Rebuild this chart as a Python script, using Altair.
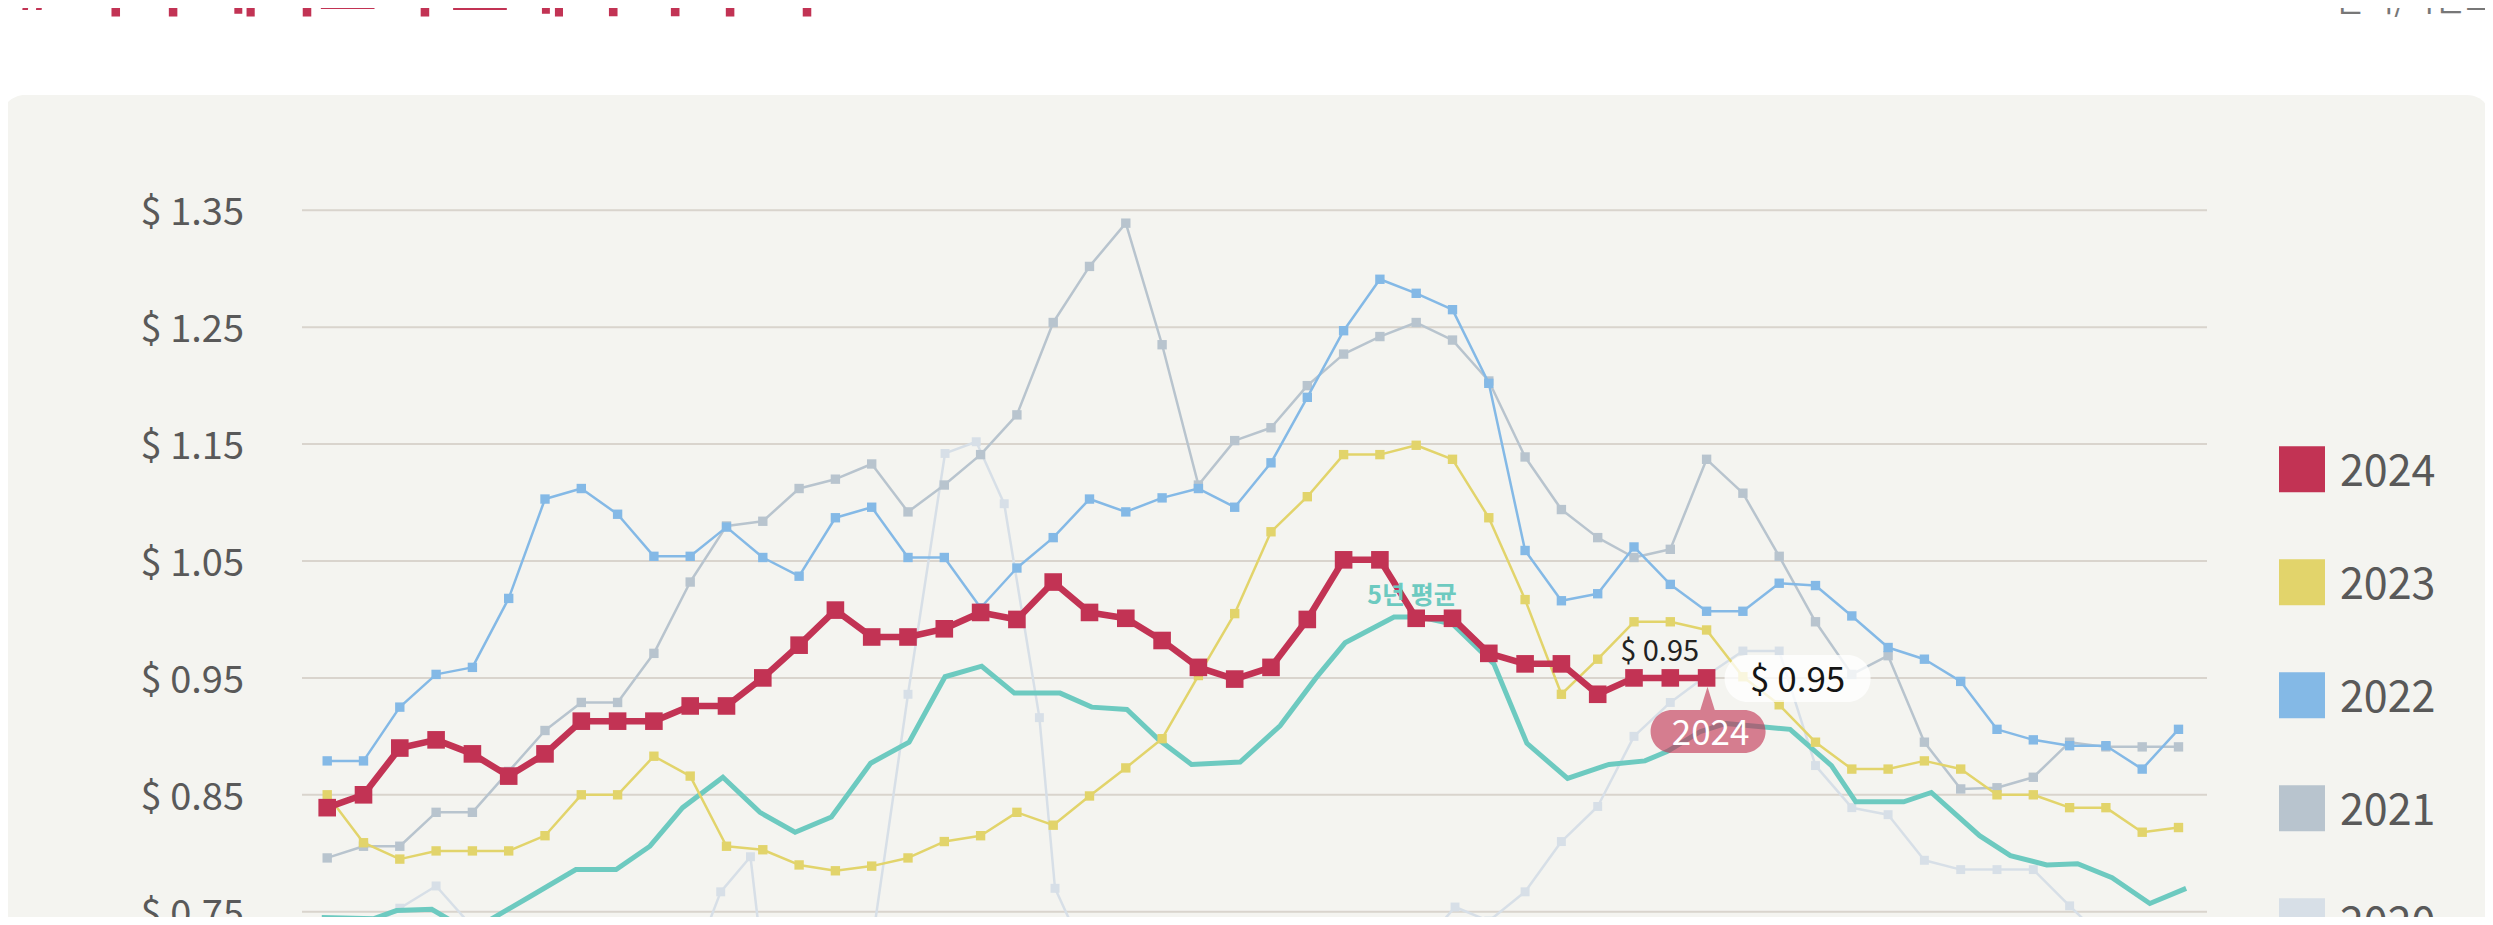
import altair as alt
import pandas as pd

# ---------------- data ----------------
weeks = list(range(52))

v2024 = [0.839, 0.850, 0.890, 0.897, 0.885, 0.866, 0.885, 0.913, 0.913, 0.913,
         0.926, 0.926, 0.950, 0.978, 1.008, 0.985, 0.985, 0.992, 1.006, 1.000,
         1.032, 1.006, 1.001, 0.982, 0.959, 0.949, 0.959, 1.000, 1.051, 1.051,
         1.001, 1.001, 0.971, 0.962, 0.962, 0.936, 0.950, 0.950, 0.950]

v2023 = [0.850, 0.809, 0.795, 0.802, 0.802, 0.802, 0.815, 0.850, 0.850, 0.883,
         0.866, 0.806, 0.803, 0.790, 0.785, 0.789, 0.796, 0.810, 0.815, 0.835,
         0.824, 0.849, 0.873, 0.898, 0.952, 1.005, 1.075, 1.105, 1.141, 1.141,
         1.149, 1.137, 1.087, 1.017, 0.936, 0.966, 0.998, 0.998, 0.991, 0.951,
         0.927, 0.895, 0.872, 0.872, 0.879, 0.872, 0.850, 0.850, 0.839, 0.839,
         0.818, 0.822]

v2022 = [0.879, 0.879, 0.925, 0.953, 0.959, 1.018, 1.103, 1.112, 1.090, 1.054,
         1.054, 1.079, 1.053, 1.037, 1.087, 1.096, 1.053, 1.053, 1.010, 1.044,
         1.070, 1.103, 1.092, 1.104, 1.112, 1.096, 1.134, 1.190, 1.247, 1.291,
         1.279, 1.265, 1.202, 1.059, 1.016, 1.022, 1.062, 1.030, 1.007, 1.007,
         1.031, 1.029, 1.003, 0.976, 0.966, 0.947, 0.906, 0.897, 0.892, 0.892,
         0.872, 0.906]

v2021 = [0.796, 0.806, 0.806, 0.835, 0.835, 0.870, 0.905, 0.929, 0.929, 0.971,
         1.032, 1.080, 1.084, 1.112, 1.120, 1.133, 1.092, 1.115, 1.141, 1.175,
         1.254, 1.302, 1.339, 1.235, 1.115, 1.153, 1.164, 1.200, 1.227, 1.242,
         1.254, 1.239, 1.204, 1.139, 1.094, 1.070, 1.053, 1.060, 1.137, 1.108,
         1.054, 0.998, 0.953, 0.969, 0.895, 0.855, 0.856, 0.865, 0.895, 0.891,
         0.891, 0.891]

x2020 = [0, 1, 2, 3, 4, 5, 6, 7, 8, 9, 10, 10.84, 11.66, 12.5, 13.3, 14.1, 15,
         16.0, 17.02, 17.88, 18.65, 19.62, 20.05, 21.04, 22, 23, 24, 25, 26, 27,
         28, 29, 30.04, 31.07, 32, 33, 34, 35, 36, 37, 38, 39, 40, 41, 42, 43,
         44, 45, 46, 47, 48, 49, 50, 51]
v2020 = [0.741, 0.733, 0.753, 0.772, 0.737, 0.720, 0.700, 0.690, 0.680, 0.685,
         0.699, 0.767, 0.797, 0.572, 0.560, 0.620, 0.721, 0.936, 1.142, 1.152,
         1.099, 0.916, 0.770, 0.703, 0.690, 0.680, 0.670, 0.660, 0.660, 0.670,
         0.680, 0.700, 0.717, 0.754, 0.742, 0.767, 0.810, 0.840, 0.900, 0.929,
         0.952, 0.973, 0.973, 0.875, 0.839, 0.833, 0.794, 0.786, 0.786, 0.786,
         0.755, 0.725, 0.720, 0.738]

x_avg = [-0.15, 1.29, 1.91, 2.88, 3.93, 5.59, 6.85, 7.96, 8.89, 9.79,
         10.90, 11.92, 12.89, 13.89, 14.97, 16.03, 17.02, 18.03, 18.93, 20.19,
         21.06, 22.03, 22.91, 23.81, 25.15, 26.25, 27.24, 28.04, 29.39, 30.11,
         31.01, 32.14, 33.05, 34.17, 35.31, 36.30, 36.91, 37.82, 38.53, 39.58,
         40.30, 41.44, 42.11, 43.43, 44.19, 45.52, 46.37, 47.37, 48.22, 49.17,
         50.21, 51.21]
v_avg = [0.745, 0.744, 0.751, 0.752, 0.733, 0.763, 0.786, 0.786, 0.806, 0.839,
         0.865, 0.835, 0.818, 0.831, 0.877, 0.895, 0.951, 0.960, 0.937, 0.937,
         0.925, 0.923, 0.897, 0.876, 0.878, 0.909, 0.950, 0.980, 1.002, 1.002,
         0.996, 0.962, 0.894, 0.864, 0.876, 0.879, 0.887, 0.904, 0.911, 0.908,
         0.906, 0.875, 0.844, 0.844, 0.852, 0.815, 0.798, 0.790, 0.791, 0.779,
         0.757, 0.770]

y_ticks = [0.75, 0.85, 0.95, 1.05, 1.15, 1.25, 1.35]
legend_years = ["2024", "2023", "2022", "2021", "2020"]
avg_label = "5년 평균"
title_text = "# 미국 돼지고기 도매가격 추이"
unit_text = "달러/파운드"

# ---------------- styles ----------------
FONT = "Noto Sans CJK KR"
C2024, C2023, C2022, C2021, C2020 = "#c23354", "#e2d46b", "#84b9e6", "#b8c4ce", "#d7dfe7"
CAVG = "#6dcac0"
PANEL = "#f4f4f0"
GRID = "#d9d4cd"
TXT = "#595959"

W, H = 2477, 909
xscale = alt.Scale(domain=[0, 51], range=[319.2, 2170.5], nice=False, zero=False)
yscale = alt.Scale(domain=[0.75, 1.35], range=[903.7, 202.3], nice=False, zero=False)
X = alt.X("week:Q", scale=xscale, axis=None)
Y = alt.Y("value:Q", scale=yscale, axis=None)

one = pd.DataFrame({"k": [0]})

panel = alt.Chart(one).mark_rect(color=PANEL, cornerRadius=24).encode(
    x=alt.value(-7), x2=alt.value(2483), y=alt.value(87), y2=alt.value(1200))

title = alt.Chart(one).mark_text(
    text=title_text, font=FONT, fontSize=64, fontWeight="bold", color=C2024,
    align="left", baseline="alphabetic").encode(x=alt.value(8), y=alt.value(2))
unit = alt.Chart(one).mark_text(
    text=unit_text, font=FONT, fontSize=32, color="#777777",
    align="right", baseline="alphabetic").encode(x=alt.value(2487), y=alt.value(3))

tick_df = pd.DataFrame({"value": y_ticks})
grid = alt.Chart(tick_df).mark_rule(color=GRID, strokeWidth=2).encode(
    y=Y, x=alt.value(294), x2=alt.value(2199))
ylabels = alt.Chart(tick_df).transform_calculate(
    lab="'$ ' + format(datum.value, '.2f')").mark_text(
    font=FONT, fontSize=38, color=TXT, align="right", baseline="alphabetic", dy=15
).encode(y=Y, x=alt.value(236), text="lab:N")


def series(xs, vs, color, width, msize, marker=True):
    df = pd.DataFrame({"week": xs, "value": vs})
    base = alt.Chart(df).encode(x=X, y=Y)
    layers = [base.mark_line(color=color, strokeWidth=width, clip=True,
                             strokeJoin="round")]
    if marker:
        layers.append(base.mark_point(shape="square", filled=True, color=color,
                                      size=msize, opacity=1, strokeWidth=0,
                                      clip=True))
    return layers


lines = []
lines += series(x2020, v2020, C2020, 2.5, 80)
lines += series(weeks, v2021, C2021, 2.5, 88)
lines += series(weeks, v2022, C2022, 2.5, 88)
avg_df = pd.DataFrame({"week": x_avg, "value": v_avg})
lines.append(alt.Chart(avg_df).mark_line(color=CAVG, strokeWidth=5, clip=True)
             .encode(x=X, y=Y))
lines += series(weeks, v2023, C2023, 2.5, 88)
lines += series(weeks[:len(v2024)], v2024, C2024, 6.5, 310)

# ---------------- annotations anchored on data ----------------
k = v_avg.index(max(v_avg))
avg_ann = alt.Chart(pd.DataFrame({"week": [x_avg[k]], "value": [v_avg[k]],
                                  "t": [avg_label]})).mark_text(
    font=FONT, fontSize=25, fontWeight="bold", color=CAVG, align="center",
    baseline="alphabetic", dx=18, dy=-13).encode(x=X, y=Y, text="t:N")

last = len(v2024) - 1
ann_df = pd.DataFrame({"week": [last], "value": [v2024[last]],
                       "lab": ["$ %.2f" % v2024[last]], "yr": [legend_years[0]]})


def rrect(x0, y0, x1, y1, r):
    return (f"M{x0 + r},{y0} H{x1 - r} A{r},{r} 0 0 1 {x1},{y0 + r} "
            f"V{y1 - r} A{r},{r} 0 0 1 {x1 - r},{y1} H{x0 + r} "
            f"A{r},{r} 0 0 1 {x0},{y1 - r} V{y0 + r} A{r},{r} 0 0 1 {x0 + r},{y0} Z")


box_path = rrect(18, -23, 164, 24, 23)
bubble_path = rrect(-56, 32, 59, 75, 21.5) + " M-7.6,36 L0.9,8.8 L9.4,36 Z"

ab = alt.Chart(ann_df).encode(x=X, y=Y)
ann = [
    ab.mark_text(font=FONT, fontSize=29, color="#222222", align="center",
                 baseline="alphabetic", dx=-47, dy=-17).encode(text="lab:N"),
    ab.mark_point(shape=box_path, size=4, filled=True, color="white",
                  opacity=0.78, strokeWidth=0),
    ab.mark_text(font=FONT, fontSize=35, color="#151515", align="center",
                 baseline="alphabetic", dx=91, dy=14.5).encode(text="lab:N"),
    ab.mark_point(shape=bubble_path, size=4, filled=True, color=C2024,
                  opacity=0.62, strokeWidth=0),
    ab.mark_text(font=FONT, fontSize=35, color="white", align="center",
                 baseline="alphabetic", dx=4, dy=67).encode(text="yr:N"),
]

# ---------------- legend ----------------
leg_df = pd.DataFrame({"year": legend_years})
leg_y = alt.Y("year:N", scale=alt.Scale(type="point", domain=legend_years,
                                        range=[461.3, 913.3], padding=0), axis=None)
leg_c = alt.Color("year:N", scale=alt.Scale(domain=legend_years,
                                            range=[C2024, C2023, C2022, C2021, C2020]),
                  legend=None)
leg_sq = alt.Chart(leg_df).mark_point(shape="square", filled=True, size=46 * 46,
                                      opacity=1, strokeWidth=0).encode(
    x=alt.value(2294), y=leg_y, color=leg_c)
leg_tx = alt.Chart(leg_df).mark_text(font=FONT, fontSize=43, color=TXT,
                                     align="left", baseline="alphabetic",
                                     dy=17).encode(
    x=alt.value(2332), y=leg_y, text="year:N")

chart = alt.layer(
    panel, title, unit, grid, ylabels, *lines, avg_ann, *ann, leg_sq, leg_tx
).resolve_scale(y="independent", color="independent").properties(
    width=W, height=H, padding=0, background="white",
    autosize=alt.AutoSizeParams(type="none"),
).configure_view(strokeWidth=0)

chart.save("out.html", embed_options={"renderer": "svg", "actions": False})
